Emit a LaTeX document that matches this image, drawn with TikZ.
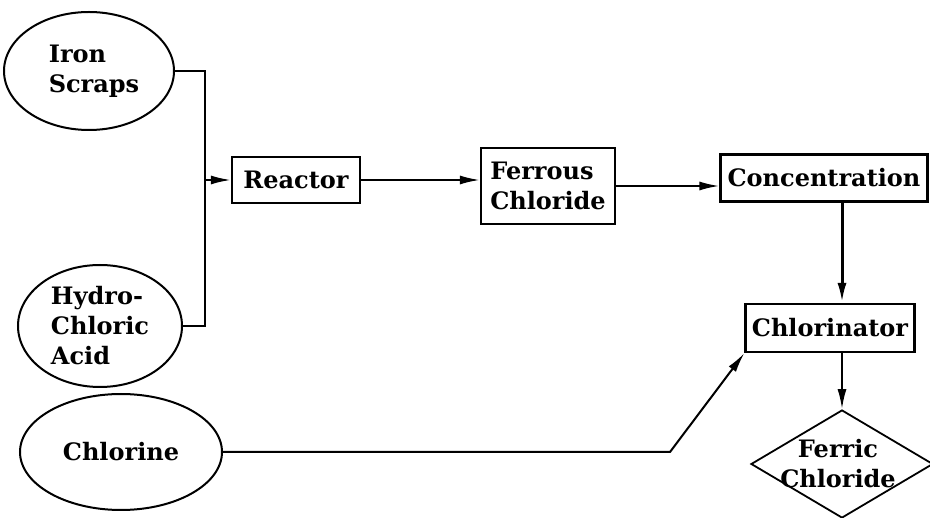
\documentclass[tikz,border=0pt]{standalone}
\usepackage{fontspec}
\setmainfont{DejaVu Serif}
\usetikzlibrary{arrows.meta,positioning,shapes.geometric}

\begin{document}
\begin{tikzpicture}[x=1pt, y=-1pt,
        every node/.style={font=\fontsize{24}{30}\selectfont\bfseries},
        feed/.style={draw, ellipse, line width=2pt, inner sep=0pt, align=left},
        unit/.style={draw, line width=2.2pt, inner sep=3pt, align=left},
        product/.style={draw, diamond, line width=1.8pt, inner sep=0pt,
          minimum width=182pt, minimum height=108pt},
        arr/.style={-{Latex[length=20pt,width=9pt]}, line width=2pt},
        pipe/.style={line width=2.2pt}
      ]
        \useasboundingbox (0,0) rectangle (930,518);
        % raw materials
        \node[feed, minimum width=170pt, minimum height=118pt] (iron) at (89,71) {\hspace*{10pt}Iron\\\hspace*{10pt}Scraps};
        \node[feed, minimum width=164pt, minimum height=122pt] (hcl) at (100,326) {Hydro-\\Chloric\\Acid};
        \node[feed, minimum width=202pt, minimum height=116pt] (cl2) at (121,452) {Chlorine};
        % process units
        \node[unit, minimum width=128pt, minimum height=46pt] (reactor) at (296,180) {Reactor};
        \node[unit, minimum width=134pt, minimum height=76pt] (ferrous) at (548,186) {Ferrous\\Chloride};
        \node[unit, minimum width=207pt, minimum height=47pt] (conc) at (824,178) {Concentration};
        \node[unit, minimum width=169pt, minimum height=48pt] (chlor) at (830,328) {Chlorinator};
        \node[product, label={[align=center, xshift=-4pt]center:Ferric\\Chloride}] (ferric) at (842,464) {};
        \coordinate (mix) at (205,180);
        \coordinate (bend) at (670,452);
        % connectors
        \draw[pipe] (iron.east) -| (mix);
        \draw[pipe] (hcl.east) -| (mix);
        \draw[arr] (mix) -- (reactor.west);
        \draw[arr] (reactor.east) -- (reactor.east -| ferrous.west);
        \draw[arr] (ferrous.east) -- (ferrous.east -| conc.west);
        \draw[arr, line width=3pt] (conc.south -| ferric.north) -- (chlor.north -| ferric.north);
        \draw[arr] (chlor.south -| ferric.north) -- (ferric.north);
        \draw[arr] (cl2.east) -- (bend) -- (chlor.south west);
      \end{tikzpicture}
\end{document}
